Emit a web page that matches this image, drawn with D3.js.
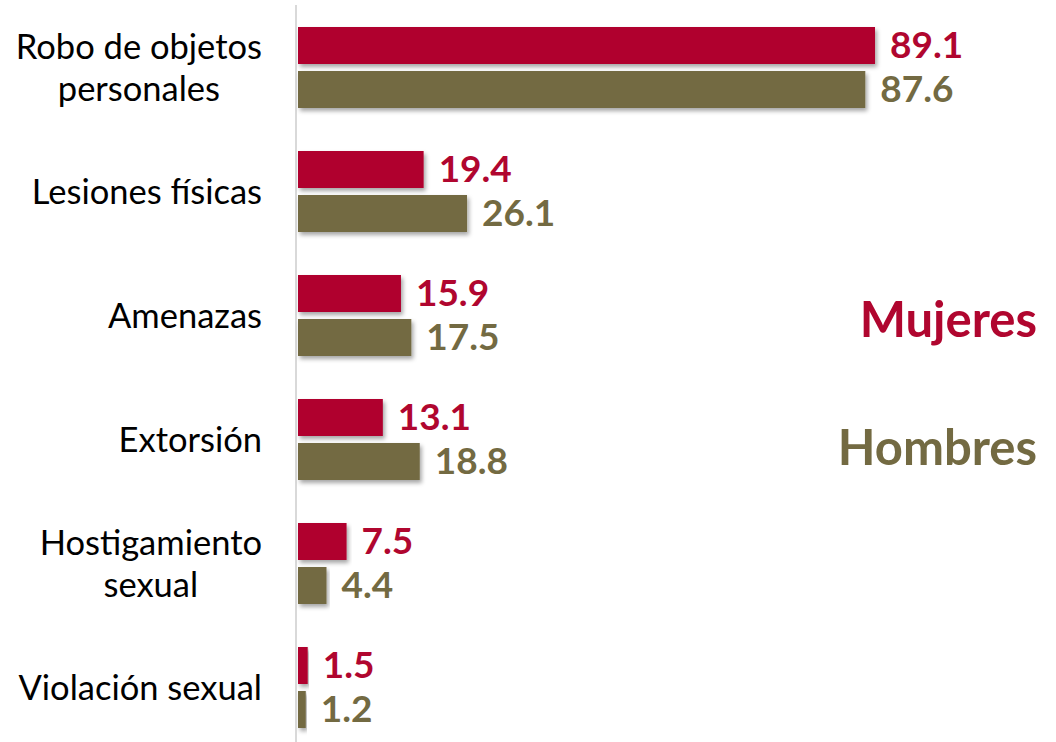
<!DOCTYPE html>
<html>
<head>
<meta charset="utf-8">
<script src="https://cdn.jsdelivr.net/npm/d3@7"></script>
<style>
  html, body { margin: 0; padding: 0; background: #fff; }
  svg { display: block; }
  text { font-family: Lato, "Open Sans", sans-serif; }
</style>
</head>
<body>
<svg id="chart" width="1056" height="742"></svg>
<script>
const categories = [
  ["Robo de objetos", "personales"],
  ["Lesiones físicas"],
  ["Amenazas"],
  ["Extorsión"],
  ["Hostigamiento", "sexual"],
  ["Violación sexual"]
];
const series = ["Mujeres", "Hombres"];
const mujeres = [89.1, 19.4, 15.9, 13.1, 7.5, 1.5];
const hombres = [87.6, 26.1, 17.5, 18.8, 4.4, 1.2];
const colors = { Mujeres: "#B0062F", Hombres: "#736A42" };

const keys = categories.map(c => c.join(" "));
const rows = keys.map((k, i) => ({ key: k, lines: categories[i], Mujeres: mujeres[i], Hombres: hombres[i] }));

const svg = d3.select("#chart");

const defs = svg.append("defs");
const f = defs.append("filter").attr("id", "shadow").attr("x", "-5%").attr("y", "-20%").attr("width", "115%").attr("height", "160%");
f.append("feDropShadow").attr("dx", 2).attr("dy", 3).attr("stdDeviation", 2)
  .attr("flood-color", "#000").attr("flood-opacity", 0.35);

const x = d3.scaleLinear().domain([0, 100]).range([298, 298 + 647.6]);
const y = d3.scaleBand().domain(keys).range([5.5, 749.5]).paddingInner(43 / 124).paddingOuter(43 / 248);
const yInner = d3.scaleBand().domain(series).range([0, y.bandwidth()]).paddingInner(7 / 44);

// axis line
svg.append("line")
  .attr("x1", x(0) - 2).attr("x2", x(0) - 2)
  .attr("y1", 5).attr("y2", 742)
  .attr("stroke", "#d9d9d9").attr("stroke-width", 2);

const g = svg.selectAll("g.cat").data(rows).join("g")
  .attr("class", "cat")
  .attr("transform", d => `translate(0,${y(d.key)})`);

g.selectAll("rect").data(d => series.map(s => ({ s, v: d[s] }))).join("rect")
  .attr("x", x(0))
  .attr("y", d => yInner(d.s))
  .attr("width", d => x(d.v) - x(0))
  .attr("height", yInner.bandwidth())
  .attr("fill", d => colors[d.s])
  .attr("filter", "url(#shadow)");

g.selectAll("text.val").data(d => series.map(s => ({ s, v: d[s] }))).join("text")
  .attr("class", "val")
  .attr("x", d => x(d.v) + 15)
  .attr("y", d => yInner(d.s) + yInner.bandwidth() / 2 + 12)
  .attr("fill", d => colors[d.s])
  .attr("font-size", 37)
  .attr("font-weight", 700)
  .text(d => d3.format(".1f")(d.v));

// category labels (multi-line labels centered on each other, block right-aligned)
const labelRight = 262;
g.each(function(d) {
  const sel = d3.select(this);
  const n = d.lines.length;
  const c = y.bandwidth() / 2;
  const t = sel.append("text")
    .attr("font-size", 34.5)
    .attr("fill", "#000");
  const spans = d.lines.map((ln, i) => t.append("tspan")
    .attr("y", c + (i - (n - 1) / 2) * 42 + 12)
    .text(ln));
  if (n === 1) {
    t.attr("text-anchor", "end");
    spans[0].attr("x", labelRight);
  } else {
    const maxW = d3.max(spans, s => s.node().getComputedTextLength());
    t.attr("text-anchor", "middle");
    spans.forEach(s => s.attr("x", labelRight - maxW / 2));
  }
});

// legend
const legendY = [337, 465];
svg.selectAll("text.leg").data(series).join("text")
  .attr("class", "leg")
  .attr("x", 1037)
  .attr("y", (d, i) => legendY[i])
  .attr("text-anchor", "end")
  .attr("font-size", 49)
  .attr("font-weight", 700)
  .attr("fill", d => colors[d])
  .text(d => d);
</script>
</body>
</html>
